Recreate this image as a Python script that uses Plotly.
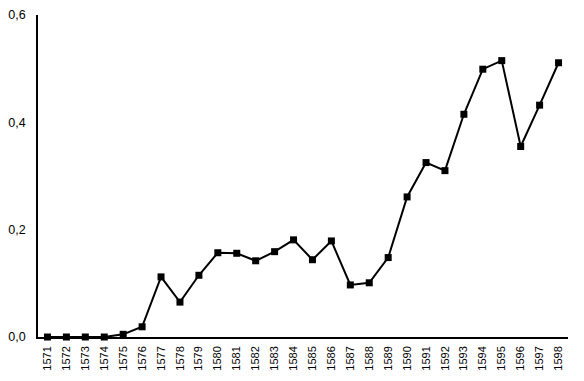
import plotly.graph_objects as go

years = [str(y) for y in range(1571, 1599)]
values = [0.0, 0.0, 0.0, 0.0, 0.005, 0.019, 0.112, 0.065, 0.115, 0.157,
          0.156, 0.142, 0.159, 0.181, 0.144, 0.179, 0.097, 0.101, 0.148,
          0.261, 0.325, 0.310, 0.415, 0.499, 0.515, 0.355, 0.432, 0.511]
y_ticks = [0.0, 0.2, 0.4, 0.6]

fig = go.Figure(go.Scatter(
    x=years, y=values, mode="lines+markers",
    line=dict(color="black", width=2),
    marker=dict(symbol="square", size=7, color="black"),
    cliponaxis=False,
))

fig.update_layout(
    width=584, height=381,
    margin=dict(l=38, r=16, t=15, b=44),
    paper_bgcolor="white", plot_bgcolor="white",
    separators=",.",
    showlegend=False,
    font=dict(family="Liberation Sans, Arial", color="black", size=12),
)
fig.update_xaxes(
    type="category", range=[-0.5, 27.5], automargin=False,
    showline=True, linecolor="black", linewidth=1.5,
    showgrid=False, zeroline=False,
    tickangle=-90, tickfont=dict(size=11), ticks="",
    ticklabelstandoff=3,
)
fig.update_yaxes(
    range=[0, 0.6], tickvals=y_ticks, tickformat=".1f", automargin=False,
    showline=True, linecolor="black", linewidth=1.5,
    showgrid=False, zeroline=False, ticks="",
    tickfont=dict(size=12.5), ticklabelstandoff=8,
)

fig.write_html("out.html")
